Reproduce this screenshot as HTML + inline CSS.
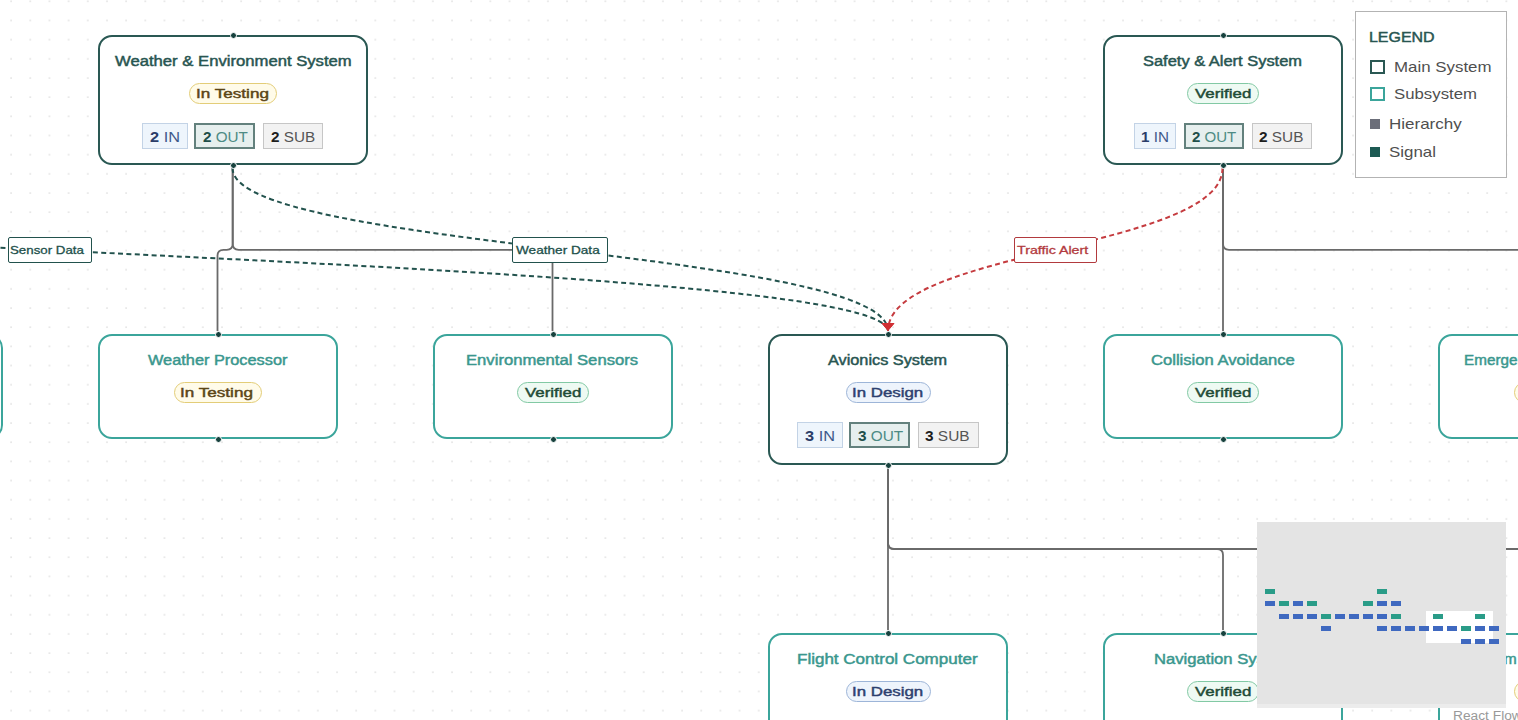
<!DOCTYPE html>
<html><head><meta charset="utf-8"><style>
html,body{margin:0;padding:0;width:1518px;height:720px;overflow:hidden;background:#fff;font-family:"Liberation Sans",sans-serif;}
.abs{position:absolute;}
.tx{position:absolute;line-height:1;white-space:nowrap;transform-origin:0 0;}
.node{position:absolute;border:2px solid;border-radius:14px;background:#fff;}
.badge{position:absolute;height:18.5px;border:1px solid;border-radius:11px;}
.hd{position:absolute;width:5px;height:5px;border-radius:50%;background:#17423e;border:1px solid #fff;}
.el{position:absolute;border:1px solid;border-radius:2px;background:#fff;}
.legend{position:absolute;left:1354.5px;top:11.3px;width:150.5px;height:164.5px;border:1px solid #b3b3b3;background:#fff;}
</style></head>
<body>
<svg class="abs" width="1518" height="720" style="left:0;top:0">
<defs><pattern id="dp" x="10.1" y="0.27" width="19.17" height="19.17" patternUnits="userSpaceOnUse">
<circle cx="1" cy="1" r="0.85" fill="#dcdcdc"/></pattern></defs>
<rect x="0" y="0" width="1518" height="720" fill="url(#dp)"/></svg><svg class="abs" width="1518" height="720" style="left:0;top:0"><path d="M232.7,168 L232.7,243.8 Q232.7,249.8 226.7,249.8 L223.5,249.8 Q217.5,249.8 217.5,255.8 L217.5,331" fill="none" stroke="#6a6a6a" stroke-width="1.8"/><path d="M232.7,168 L232.7,243.8 Q232.7,249.8 238.7,249.8 L546.5,249.8 Q552.5,249.8 552.5,255.8 L552.5,331" fill="none" stroke="#6a6a6a" stroke-width="1.8"/><path d="M1223,168 L1223,331" fill="none" stroke="#6a6a6a" stroke-width="1.8"/><path d="M1223,168 L1223,243.8 Q1223,249.8 1229,249.8 L1551.5,249.8 Q1557.5,249.8 1557.5,255.8 L1557.5,331" fill="none" stroke="#6a6a6a" stroke-width="1.8"/><path d="M888,467 L888,630" fill="none" stroke="#6a6a6a" stroke-width="1.8"/><path d="M888,467 L888,543 Q888,549 894,549 L1217,549 Q1223,549 1223,555 L1223,630" fill="none" stroke="#6a6a6a" stroke-width="1.8"/><path d="M888,467 L888,543 Q888,549 894,549 L1551.5,549 Q1557.5,549 1557.5,555 L1557.5,630" fill="none" stroke="#6a6a6a" stroke-width="1.8"/><path d="M-788,169.5 C-788,250.25 888,250.25 888,331" fill="none" stroke="#22524d" stroke-width="2" stroke-dasharray="5 3.4"/><path d="M232.5,168 C232.5,249.5 888,249.5 888,331" fill="none" stroke="#22524d" stroke-width="2" stroke-dasharray="5 3.4"/><path d="M1222.5,168 C1222.5,249.5 888,249.5 888,331" fill="none" stroke="#c53b3f" stroke-width="2" stroke-dasharray="5 3.4"/><path d="M882,323.5 L894,323.5 L888,330.5 Z" fill="#d02f33" stroke="#d02f33" stroke-width="1" stroke-linejoin="round"/></svg><div class="el" style="left:7.8px;top:237px;width:82.10px;height:23.6px;border-color:#22524d"></div><div class="tx" style="left:10.32px;top:244.57px;font-size:11.5px;font-weight:400;-webkit-text-stroke:0.3px currentColor;color:#22504b;transform:scaleX(1.1559)">Sensor Data</div><div class="el" style="left:512.2px;top:237px;width:93.70px;height:23.6px;border-color:#22524d"></div><div class="tx" style="left:515.90px;top:244.57px;font-size:11.5px;font-weight:400;-webkit-text-stroke:0.3px currentColor;color:#22504b;transform:scaleX(1.1831)">Weather Data</div><div class="el" style="left:1013.9px;top:237px;width:81.00px;height:23.6px;border-color:#b23a3e"></div><div class="tx" style="left:1016.50px;top:244.57px;font-size:11.5px;font-weight:400;-webkit-text-stroke:0.3px currentColor;color:#b23a3e;transform:scaleX(1.2383)">Traffic Alert</div><div class="node" style="left:-237px;top:334px;width:236px;height:101px;border-color:#3ba59b"></div><div class="tx" style="left:-200.54px;top:353.05px;font-size:14px;font-weight:400;-webkit-text-stroke:0.45px currentColor;color:#3a978e;transform:scaleX(1.0900)">Something Else</div><div class="badge" style="left:-153.00px;top:382.30px;width:70px;background:#eefaf3;border-color:#82c9a4"></div><div class="hd" style="left:-120.5px;top:330.5px"></div><div class="hd" style="left:-120.5px;top:435.5px"></div><div class="node" style="left:98px;top:35px;width:266px;height:126px;border-color:#2a5853"></div><div class="tx" style="left:114.80px;top:54.05px;font-size:14px;font-weight:400;-webkit-text-stroke:0.45px currentColor;color:#285551;transform:scaleX(1.1899)">Weather &amp; Environment System</div><div class="badge" style="left:189.00px;top:83.30px;width:86px;background:#fffbe9;border-color:#e3cd78"></div><div class="tx" style="left:195.83px;top:86.87px;font-size:13.5px;font-weight:400;-webkit-text-stroke:0.45px currentColor;color:#5b4516;transform:scaleX(1.2679)">In Testing</div><div class="abs" style="left:142.20px;top:123px;width:43.50px;height:24px;background:#eef5fc;border:1px solid #c3d3e6"></div><div class="tx" style="left:149.92px;top:130.15px;font-size:14px;font-weight:700;color:#2b3d69;transform:scaleX(1.1667)"><b style="color:#2b3d69">2</b> <span style="color:#40598a;font-weight:400">IN</span></div><div class="abs" style="left:194.30px;top:123px;width:57.20px;height:22px;background:#e6efee;border:2px solid #63817d"></div><div class="tx" style="left:202.96px;top:130.15px;font-size:14px;font-weight:700;color:#1f4f4a;transform:scaleX(1.0889)"><b style="color:#1f4f4a">2</b> <span style="color:#4d8b84;font-weight:400">OUT</span></div><div class="abs" style="left:262.50px;top:123px;width:58.90px;height:24px;background:#f2f2f2;border:1px solid #c6c6c6"></div><div class="tx" style="left:270.85px;top:130.15px;font-size:14px;font-weight:700;color:#1e1e1e;transform:scaleX(1.0904)"><b style="color:#1e1e1e">2</b> <span style="color:#555555;font-weight:400">SUB</span></div><div class="hd" style="left:229.5px;top:31.5px"></div><div class="hd" style="left:229.5px;top:161.5px"></div><div class="node" style="left:1103px;top:35px;width:236px;height:126px;border-color:#2a5853"></div><div class="tx" style="left:1143.21px;top:54.05px;font-size:14px;font-weight:400;-webkit-text-stroke:0.45px currentColor;color:#285551;transform:scaleX(1.1747)">Safety &amp; Alert System</div><div class="badge" style="left:1187.00px;top:83.30px;width:70px;background:#eefaf3;border-color:#82c9a4"></div><div class="tx" style="left:1195.36px;top:86.87px;font-size:13.5px;font-weight:400;-webkit-text-stroke:0.45px currentColor;color:#1f4b37;transform:scaleX(1.2517)">Verified</div><div class="abs" style="left:1134.20px;top:123px;width:39.50px;height:24px;background:#eef5fc;border:1px solid #c3d3e6"></div><div class="tx" style="left:1140.81px;top:130.15px;font-size:14px;font-weight:700;color:#2b3d69;transform:scaleX(1.0851)"><b style="color:#2b3d69">1</b> <span style="color:#40598a;font-weight:400">IN</span></div><div class="abs" style="left:1184.00px;top:123px;width:55.80px;height:22px;background:#e6efee;border:2px solid #63817d"></div><div class="tx" style="left:1191.66px;top:130.15px;font-size:14px;font-weight:700;color:#1f4f4a;transform:scaleX(1.0741)"><b style="color:#1f4f4a">2</b> <span style="color:#4d8b84;font-weight:400">OUT</span></div><div class="abs" style="left:1252.10px;top:123px;width:57.70px;height:24px;background:#f2f2f2;border:1px solid #c6c6c6"></div><div class="tx" style="left:1259.45px;top:130.15px;font-size:14px;font-weight:700;color:#1e1e1e;transform:scaleX(1.0981)"><b style="color:#1e1e1e">2</b> <span style="color:#555555;font-weight:400">SUB</span></div><div class="hd" style="left:1219.5px;top:31.5px"></div><div class="hd" style="left:1219.5px;top:161.5px"></div><div class="node" style="left:98px;top:334px;width:236px;height:101px;border-color:#3ba59b"></div><div class="tx" style="left:148.19px;top:353.05px;font-size:14px;font-weight:400;-webkit-text-stroke:0.45px currentColor;color:#3a978e;transform:scaleX(1.1658)">Weather Processor</div><div class="badge" style="left:174.00px;top:382.30px;width:86px;background:#fffbe9;border-color:#e3cd78"></div><div class="tx" style="left:180.43px;top:386.07px;font-size:13.5px;font-weight:400;-webkit-text-stroke:0.45px currentColor;color:#5b4516;transform:scaleX(1.2679)">In Testing</div><div class="hd" style="left:214.5px;top:330.5px"></div><div class="hd" style="left:214.5px;top:435.5px"></div><div class="node" style="left:433px;top:334px;width:236px;height:101px;border-color:#3ba59b"></div><div class="tx" style="left:466.31px;top:353.05px;font-size:14px;font-weight:400;-webkit-text-stroke:0.45px currentColor;color:#3a978e;transform:scaleX(1.1889)">Environmental Sensors</div><div class="badge" style="left:517.00px;top:382.30px;width:70px;background:#eefaf3;border-color:#82c9a4"></div><div class="tx" style="left:524.96px;top:386.07px;font-size:13.5px;font-weight:400;-webkit-text-stroke:0.45px currentColor;color:#1f4b37;transform:scaleX(1.2517)">Verified</div><div class="hd" style="left:549.5px;top:330.5px"></div><div class="hd" style="left:549.5px;top:435.5px"></div><div class="node" style="left:768px;top:334px;width:236px;height:127px;border-color:#2a5853"></div><div class="tx" style="left:828.49px;top:353.05px;font-size:14px;font-weight:400;-webkit-text-stroke:0.45px currentColor;color:#285551;transform:scaleX(1.1627)">Avionics System</div><div class="badge" style="left:845.50px;top:382.30px;width:83px;background:#eef4fc;border-color:#9db5d8"></div><div class="tx" style="left:851.95px;top:386.07px;font-size:13.5px;font-weight:400;-webkit-text-stroke:0.45px currentColor;color:#2d3f6f;transform:scaleX(1.2489)">In Design</div><div class="abs" style="left:797.20px;top:422px;width:43.50px;height:24px;background:#eef5fc;border:1px solid #c3d3e6"></div><div class="tx" style="left:804.91px;top:429.15px;font-size:14px;font-weight:700;color:#2b3d69;transform:scaleX(1.1670)"><b style="color:#2b3d69">3</b> <span style="color:#40598a;font-weight:400">IN</span></div><div class="abs" style="left:849.30px;top:422px;width:57.20px;height:22px;background:#e6efee;border:2px solid #63817d"></div><div class="tx" style="left:857.63px;top:429.15px;font-size:14px;font-weight:700;color:#1f4f4a;transform:scaleX(1.0969)"><b style="color:#1f4f4a">3</b> <span style="color:#4d8b84;font-weight:400">OUT</span></div><div class="abs" style="left:917.50px;top:422px;width:59.20px;height:24px;background:#f2f2f2;border:1px solid #c6c6c6"></div><div class="tx" style="left:925.42px;top:429.15px;font-size:14px;font-weight:700;color:#1e1e1e;transform:scaleX(1.1013)"><b style="color:#1e1e1e">3</b> <span style="color:#555555;font-weight:400">SUB</span></div><div class="hd" style="left:884.5px;top:330.5px"></div><div class="hd" style="left:884.5px;top:461.5px"></div><div class="node" style="left:1103px;top:334px;width:236px;height:101px;border-color:#3ba59b"></div><div class="tx" style="left:1151.11px;top:353.05px;font-size:14px;font-weight:400;-webkit-text-stroke:0.45px currentColor;color:#3a978e;transform:scaleX(1.1867)">Collision Avoidance</div><div class="badge" style="left:1187.00px;top:382.30px;width:70px;background:#eefaf3;border-color:#82c9a4"></div><div class="tx" style="left:1195.36px;top:386.07px;font-size:13.5px;font-weight:400;-webkit-text-stroke:0.45px currentColor;color:#1f4b37;transform:scaleX(1.2517)">Verified</div><div class="hd" style="left:1219.5px;top:330.5px"></div><div class="hd" style="left:1219.5px;top:435.5px"></div><div class="node" style="left:1438px;top:334px;width:236px;height:101px;border-color:#3ba59b"></div><div class="tx" style="left:1463.71px;top:353.05px;font-size:14px;font-weight:400;-webkit-text-stroke:0.45px currentColor;color:#3a978e;transform:scaleX(1.0900)">Emergency Response</div><div class="badge" style="left:1514.00px;top:382.30px;width:86px;background:#fffbe9;border-color:#e3cd78"></div><div class="tx" style="left:1520.73px;top:386.07px;font-size:13.5px;font-weight:400;-webkit-text-stroke:0.45px currentColor;color:#5b4516;transform:scaleX(1.2679)">In Testing</div><div class="hd" style="left:1554.5px;top:330.5px"></div><div class="hd" style="left:1554.5px;top:435.5px"></div><div class="node" style="left:768px;top:633px;width:236px;height:101px;border-color:#3ba59b"></div><div class="tx" style="left:797.39px;top:652.05px;font-size:14px;font-weight:400;-webkit-text-stroke:0.45px currentColor;color:#3a978e;transform:scaleX(1.2149)">Flight Control Computer</div><div class="badge" style="left:845.50px;top:681.30px;width:83px;background:#eef4fc;border-color:#9db5d8"></div><div class="tx" style="left:851.95px;top:685.07px;font-size:13.5px;font-weight:400;-webkit-text-stroke:0.45px currentColor;color:#2d3f6f;transform:scaleX(1.2489)">In Design</div><div class="hd" style="left:884.5px;top:629.5px"></div><div class="hd" style="left:884.5px;top:734.5px"></div><div class="node" style="left:1103px;top:633px;width:236px;height:101px;border-color:#3ba59b"></div><div class="tx" style="left:1153.51px;top:652.05px;font-size:14px;font-weight:400;-webkit-text-stroke:0.45px currentColor;color:#3a978e;transform:scaleX(1.1878)">Navigation System</div><div class="badge" style="left:1187.00px;top:681.30px;width:70px;background:#eefaf3;border-color:#82c9a4"></div><div class="tx" style="left:1195.36px;top:685.07px;font-size:13.5px;font-weight:400;-webkit-text-stroke:0.45px currentColor;color:#1f4b37;transform:scaleX(1.2517)">Verified</div><div class="hd" style="left:1219.5px;top:629.5px"></div><div class="hd" style="left:1219.5px;top:734.5px"></div><div class="node" style="left:1438px;top:633px;width:236px;height:101px;border-color:#3ba59b"></div><div class="tx" style="left:1503.68px;top:652.05px;font-size:14px;font-weight:400;-webkit-text-stroke:0.45px currentColor;color:#3a978e;transform:scaleX(1.0900)">m</div><div class="badge" style="left:1514.00px;top:681.30px;width:86px;background:#fffbe9;border-color:#e3cd78"></div><div class="tx" style="left:1520.73px;top:685.07px;font-size:13.5px;font-weight:400;-webkit-text-stroke:0.45px currentColor;color:#5b4516;transform:scaleX(1.2679)">In Testing</div><div class="hd" style="left:1554.5px;top:629.5px"></div><div class="hd" style="left:1554.5px;top:734.5px"></div><div class="legend"></div><div class="tx" style="left:1369.46px;top:30.05px;font-size:14px;font-weight:400;-webkit-text-stroke:0.45px currentColor;color:#285551;transform:scaleX(1.1393)">LEGEND</div><div class="abs" style="left:1370px;top:59.5px;width:11px;height:10.2px;border:2px solid #2a5853"></div><div class="tx" style="left:1393.99px;top:59.00px;font-size:15px;font-weight:400;color:#4f4f4f;transform:scaleX(1.1254)">Main System</div><div class="abs" style="left:1370px;top:87.3px;width:11px;height:10.2px;border:2px solid #3ba59b"></div><div class="tx" style="left:1394.36px;top:85.50px;font-size:15px;font-weight:400;color:#4f4f4f;transform:scaleX(1.1186)">Subsystem</div><div class="abs" style="left:1370px;top:118.8px;width:10px;height:10px;background:#6b6e79"></div><div class="tx" style="left:1388.98px;top:115.90px;font-size:15px;font-weight:400;color:#4f4f4f;transform:scaleX(1.1331)">Hierarchy</div><div class="abs" style="left:1370px;top:146.8px;width:10px;height:10px;background:#1d5a53"></div><div class="tx" style="left:1389.36px;top:143.90px;font-size:15px;font-weight:400;color:#4f4f4f;transform:scaleX(1.1250)">Signal</div><div class="abs" style="left:1257px;top:522px;width:249px;height:186px;background:#e4e4e4"></div><div class="abs" style="left:1426px;top:611px;width:67px;height:32px;background:#ffffff"></div><div class="abs" style="left:1265px;top:589px;width:10px;height:5px;background:#2a9c88"></div><div class="abs" style="left:1377px;top:589px;width:10px;height:5px;background:#2a9c88"></div><div class="abs" style="left:1265px;top:601px;width:10px;height:4.5px;background:#3f69c0"></div><div class="abs" style="left:1279px;top:601px;width:10px;height:4.5px;background:#2a9c88"></div><div class="abs" style="left:1293px;top:601px;width:10px;height:4.5px;background:#3f69c0"></div><div class="abs" style="left:1307px;top:601px;width:10px;height:4.5px;background:#2a9c88"></div><div class="abs" style="left:1363px;top:601px;width:10px;height:4.5px;background:#2a9c88"></div><div class="abs" style="left:1377px;top:601px;width:10px;height:4.5px;background:#3f69c0"></div><div class="abs" style="left:1391px;top:601px;width:10px;height:4.5px;background:#3f69c0"></div><div class="abs" style="left:1279px;top:614px;width:10px;height:4.5px;background:#3f69c0"></div><div class="abs" style="left:1293px;top:614px;width:10px;height:4.5px;background:#3f69c0"></div><div class="abs" style="left:1307px;top:614px;width:10px;height:4.5px;background:#3f69c0"></div><div class="abs" style="left:1321px;top:614px;width:10px;height:4.5px;background:#2a9c88"></div><div class="abs" style="left:1335px;top:614px;width:10px;height:4.5px;background:#3f69c0"></div><div class="abs" style="left:1349px;top:614px;width:10px;height:4.5px;background:#3f69c0"></div><div class="abs" style="left:1363px;top:614px;width:10px;height:4.5px;background:#3f69c0"></div><div class="abs" style="left:1377px;top:614px;width:10px;height:4.5px;background:#3f69c0"></div><div class="abs" style="left:1391px;top:614px;width:10px;height:4.5px;background:#2a9c88"></div><div class="abs" style="left:1433px;top:614px;width:10px;height:4.5px;background:#2a9c88"></div><div class="abs" style="left:1475px;top:614px;width:10px;height:4.5px;background:#2a9c88"></div><div class="abs" style="left:1321px;top:626px;width:10px;height:5px;background:#3f69c0"></div><div class="abs" style="left:1377px;top:626px;width:10px;height:5px;background:#3f69c0"></div><div class="abs" style="left:1391px;top:626px;width:10px;height:5px;background:#3f69c0"></div><div class="abs" style="left:1405px;top:626px;width:10px;height:5px;background:#3f69c0"></div><div class="abs" style="left:1419px;top:626px;width:10px;height:5px;background:#3f69c0"></div><div class="abs" style="left:1433px;top:626px;width:10px;height:5px;background:#3f69c0"></div><div class="abs" style="left:1447px;top:626px;width:10px;height:5px;background:#3f69c0"></div><div class="abs" style="left:1461px;top:626px;width:10px;height:5px;background:#2a9c88"></div><div class="abs" style="left:1475px;top:626px;width:10px;height:5px;background:#3f69c0"></div><div class="abs" style="left:1489px;top:626px;width:10px;height:5px;background:#3f69c0"></div><div class="abs" style="left:1461px;top:639px;width:10px;height:4.5px;background:#3f69c0"></div><div class="abs" style="left:1475px;top:639px;width:10px;height:4.5px;background:#3f69c0"></div><div class="abs" style="left:1489px;top:639px;width:10px;height:4.5px;background:#3f69c0"></div><div class="abs" style="left:1257px;top:704px;width:249px;height:4px;background:#ececec"></div><div class="tx" style="left:1452.50px;top:709.62px;font-size:12.5px;font-weight:400;color:#999999;transform:scaleX(1.1000)">React Flow</div>
</body></html>
